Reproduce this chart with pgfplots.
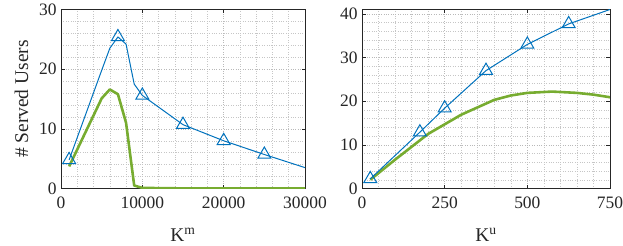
\documentclass[border=0pt]{standalone}
\usepackage{fontspec}
\setmainfont{Liberation Serif}
\usepackage{pgfplots}
\pgfplotsset{compat=1.18}
\definecolor{mblue}{rgb}{0,0.447,0.741}
\definecolor{mgreen}{rgb}{0.466,0.674,0.188}
\definecolor{axgray}{rgb}{0.15,0.15,0.15}
\pgfplotsset{
  mystyle/.style={
    scale only axis,
    width=244bp, height=179bp,
    axis line style={axgray, line width=0.6pt},
    tick style={axgray, line width=0.6pt},
    major tick length=3.5bp,
    minor tick length=0pt,
    tick align=inside,
    xtick pos=both, ytick pos=both,
    grid=both,
    major grid style={dotted, gray!55, line width=0.5pt},
    minor grid style={dotted, gray!45, line width=0.5pt},
    minor tick num=4,
    tick label style={font=\fontsize{17.5}{20}\selectfont, text=axgray},
    xticklabel style={yshift=-5bp},
    yticklabel style={xshift=-1bp},
    label style={font=\fontsize{19.5}{22}\selectfont, text=axgray},
    xlabel style={at={(axis description cs:0.5,0)}, anchor=base, yshift=-53bp},
    ylabel style={at={(axis description cs:-0.162,0.5)}, anchor=center},
    /pgf/number format/assume math mode=true,
    scaled ticks=false,
    /pgf/number format/.cd, 1000 sep={},
  }
}
\begin{document}
\begin{tikzpicture}
\path[use as bounding box] (0bp,0bp) rectangle (623bp,246bp);
\begin{axis}[mystyle, at={(61bp,57.5bp)}, anchor=south west,
  xmin=0, xmax=30000, ymin=0, ymax=30,
  xtick={0,10000,20000,30000}, ytick={0,10,20,30},
  xlabel={K\textsuperscript{m}}, ylabel={\# Served Users}]
\addplot[mgreen, line width=2.6pt, line join=round] coordinates {
(1000,3.7) (5000,15.1) (6000,16.6) (7000,15.8) (8000,11.0) (9000,0.5) (10000,0.1)
(15000,0.02) (20000,0) (25000,0) (30000,0)};
\addplot[mblue, line width=1pt, line join=round] coordinates {
(1000,4.8) (5000,19.8) (6000,23.5) (7000,25.4) (8000,24.2) (9000,17.5) (10000,15.6)
(15000,10.7) (20000,8.0) (25000,5.7) (30000,3.5)};
\addplot[mblue, only marks, mark=triangle, mark size=7.5pt, mark options={line width=1pt, fill=none}] coordinates {
(1000,4.8) (7000,25.4) (10000,15.6) (15000,10.7) (20000,8.0) (25000,5.7)};
\end{axis}
\begin{axis}[mystyle, at={(362bp,57.5bp)}, anchor=south west, width=248bp,
  xmin=0, xmax=750, ymin=0, ymax=41,
  xtick={0,250,500,750}, ytick={0,10,20,30,40},
  xlabel={K\textsuperscript{u}}]
\addplot[mgreen, line width=2.6pt, line join=round] coordinates {
(25,2.0) (100,6.6) (200,12.5) (300,16.9) (350,18.6) (400,20.3) (450,21.3) (500,21.9)
(575,22.2) (650,21.9) (700,21.5) (750,20.9)};
\addplot[mblue, line width=1pt, line join=round] coordinates {
(25,2.2) (175,12.9) (250,18.4) (375,27.0) (500,33.0) (625,37.7) (750,41.0)};
\addplot[mblue, only marks, mark=triangle, mark size=7.5pt, mark options={line width=1pt, fill=none}] coordinates {
(25,2.2) (175,12.9) (250,18.4) (375,27.0) (500,33.0) (625,37.7)};
\end{axis}
\end{tikzpicture}
\end{document}
